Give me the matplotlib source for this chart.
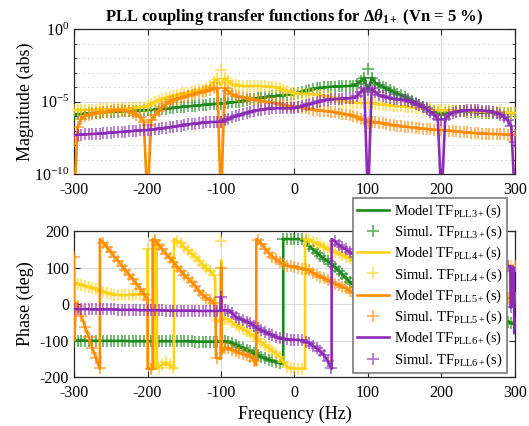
import numpy as np
import matplotlib
matplotlib.use("Agg")
import matplotlib.pyplot as plt
from matplotlib.ticker import LogFormatterSciNotation, FixedLocator, NullFormatter

plt.rcParams['font.family'] = ['Liberation Serif', 'DejaVu Serif']
plt.rcParams['mathtext.fontset'] = 'custom'
plt.rcParams['mathtext.rm'] = 'Liberation Serif'
plt.rcParams['mathtext.it'] = 'Liberation Serif:italic'
plt.rcParams['mathtext.bf'] = 'Liberation Serif:bold'
plt.rcParams['mathtext.bfit'] = 'Liberation Serif:bold:italic'
plt.rcParams['axes.unicode_minus'] = False

# frequency grid of the simulated points (Hz)
freq = np.arange(-300, 301, 5)

# magnitude, log10(abs), every 5 Hz (-12 = deep notch)
mag_pll3 = [-5.90, -5.88, -5.86, -5.84, -5.82, -5.80, -5.78, -5.76, -5.74, -5.73,
            -5.72, -5.71, -5.70, -5.68, -5.67, -5.66, -5.65, -5.63, -5.62, -5.61,
            -5.60, -5.58, -5.56, -5.54, -5.52, -5.50, -5.47, -5.44, -5.41, -5.38,
            -5.35, -5.33, -5.31, -5.29, -5.27, -5.24, -5.22, -5.20, -5.18, -5.16,
            -5.15, -5.12, -5.09, -5.06, -5.03, -5.00, -4.95, -4.90, -4.85, -4.80,
            -4.76, -4.73, -4.70, -4.67, -4.64, -4.62, -4.59, -4.56, -4.53, -4.50,
            -4.47, -4.40, -4.32, -4.25, -4.20, -4.15, -4.10, -4.06, -4.03, -4.00,
            -3.98, -3.97, -3.96, -3.95, -3.94, -3.93, -3.90, -3.80, -3.60, -3.35,
            -4.30, -3.35, -3.70, -3.85, -3.98, -4.10, -4.22, -4.33, -4.45, -4.56,
            -4.67, -4.80, -4.94, -5.08, -5.22, -5.36, -5.48, -5.58, -5.68, -5.80,
            -5.90, -5.80, -5.72, -5.67, -5.65, -5.66, -5.68, -5.70, -5.72, -5.74,
            -5.75, -5.76, -5.77, -5.78, -5.79, -5.80, -5.80, -5.80, -5.80, -5.80,
            -5.80]
mag_pll4 = [-5.59, -5.58, -5.58, -5.57, -5.57, -5.56, -5.56, -5.55, -5.55, -5.55,
            -5.54, -5.53, -5.52, -5.51, -5.50, -5.48, -5.45, -5.42, -5.39, -5.36,
            -5.32, -5.15, -5.03, -4.93, -4.84, -4.76, -4.68, -4.61, -4.55, -4.49,
            -4.44, -4.39, -4.34, -4.29, -4.24, -4.20, -4.10, -3.95, -3.65, -3.45,
            -3.90, -3.40, -3.60, -3.80, -3.88, -3.92, -3.93, -3.93, -3.93, -3.93,
            -3.93, -3.94, -3.96, -3.98, -4.00, -4.02, -4.10, -4.20, -4.30, -4.38,
            -4.43, -4.45, -4.46, -4.47, -4.48, -4.50, -4.53, -4.57, -4.62, -4.67,
            -4.72, -4.80, -4.90, -4.98, -5.03, -5.06, -5.08, -5.09, -5.10, -5.10,
            -5.10, -5.12, -5.15, -5.18, -5.21, -5.24, -5.27, -5.30, -5.32, -5.34,
            -5.36, -5.38, -5.41, -5.44, -5.47, -5.49, -5.52, -5.54, -5.56, -5.58,
            -5.59, -5.60, -5.61, -5.62, -5.63, -5.64, -5.65, -5.66, -5.67, -5.68,
            -5.69, -5.70, -5.71, -5.72, -5.73, -5.74, -5.75, -5.76, -5.77, -5.78,
            -5.80]
mag_pll5 = [-12.0, -6.74, -6.20, -6.00, -5.93, -5.86, -5.82, -5.78, -5.75, -5.70,
            -5.65, -5.60, -5.58, -5.58, -5.62, -5.68, -5.78, -5.90, -6.08, -6.40,
            -12.0, -6.30, -5.95, -5.65, -5.40, -5.20, -5.00, -4.90, -4.82, -4.75,
            -4.68, -4.60, -4.53, -4.46, -4.38, -4.32, -4.27, -4.20, -4.10, -4.05,
            -12.0, -4.05, -4.30, -4.50, -4.60, -4.67, -4.72, -4.78, -4.83, -4.87,
            -4.90, -4.95, -5.00, -5.05, -5.09, -5.13, -5.18, -5.23, -5.28, -5.32,
            -5.36, -5.40, -5.44, -5.48, -5.52, -5.56, -5.59, -5.62, -5.65, -5.68,
            -5.70, -5.75, -5.80, -5.85, -5.89, -5.93, -6.00, -6.10, -6.20, -6.30,
            -6.40, -6.40, -6.42, -6.45, -6.50, -6.55, -6.60, -6.63, -6.67, -6.70,
            -6.74, -6.76, -6.79, -6.82, -6.85, -6.87, -6.90, -6.92, -6.94, -6.96,
            -6.97, -6.99, -7.01, -7.04, -7.06, -7.09, -7.11, -7.13, -7.16, -7.18,
            -7.20, -7.21, -7.22, -7.23, -7.24, -7.25, -7.26, -7.27, -7.28, -7.29,
            -7.30]
mag_pll6 = [-7.31, -7.30, -7.28, -7.27, -7.25, -7.24, -7.22, -7.21, -7.19, -7.17,
            -7.15, -7.13, -7.11, -7.09, -7.07, -7.05, -7.03, -7.01, -6.99, -6.98,
            -6.97, -6.94, -6.91, -6.88, -6.85, -6.82, -6.78, -6.74, -6.70, -6.66,
            -6.62, -6.58, -6.55, -6.52, -6.49, -6.46, -6.44, -6.42, -6.41, -6.40,
            -6.39, -6.30, -6.20, -6.10, -6.00, -5.93, -5.85, -5.77, -5.70, -5.65,
            -5.60, -5.56, -5.52, -5.50, -5.48, -5.47, -5.47, -5.47, -5.47, -5.47,
            -5.47, -5.40, -5.32, -5.25, -5.18, -5.13, -5.05, -4.98, -4.92, -4.88,
            -4.85, -4.83, -4.81, -4.80, -4.79, -4.78, -4.75, -4.60, -4.35, -4.10,
            -12.0, -4.10, -4.35, -4.55, -4.65, -4.72, -4.78, -4.82, -4.86, -4.88,
            -4.90, -4.97, -5.05, -5.15, -5.27, -5.40, -5.55, -5.72, -5.92, -6.20,
            -12.0, -6.20, -5.92, -5.78, -5.70, -5.65, -5.62, -5.60, -5.59, -5.59,
            -5.60, -5.62, -5.64, -5.67, -5.72, -5.80, -5.90, -6.05, -6.30, -6.70,
            -12.0]

# simulated points that sit off the model curve {freq: log10 value}
mag_sim_fix = {
    'PLL3': {100: -2.75},
    'PLL4': {-100: -2.80},
    'PLL5': {-300: -7.70, -200: -6.60, -100: -6.40, 100: -6.50},
    'PLL6': {100: -4.20, 200: -6.30, 300: -7.80},
}

# phase in degrees, every 5 Hz
ph_pll3 = [-100, -100, -100, -100, -101, -101, -101, -101, -101, -101,
           -101, -101, -101, -101, -101, -102, -102, -102, -102, -102,
           -102, -102, -102, -102, -102, -102, -102, -102, -102, -102,
           -102, -102, -102, -103, -103, -103, -103, -103, -103, -103,
           -103, -102, -104, -108, -112, -117, -121, -126, -130, -135,
           -140, -145, -149, -153, -156, -159, -162, 178, 178, 178,
           178, 178, 177, 172, 160, 150, 141, 132, 124, 117,
           111, 101, 91, 81, 71, 61, 54, 47, 42, 38,
           34, 30, 27, 24, 21, 18, 15, 12, 9, 6,
           3, 0, -3, -6, -9, -12, -15, -17, -19, -21,
           -23, -25, -27, -29, -31, -33, -35, -36, -37, -38,
           -39, -40, -41, -42, -43, -44, -45, -47, -49, -52,
           -56]
ph_pll4 = [58, 55, 52, 50, 47, 44, 41, 37, 34, 31,
           28, 26, 25, 24, 24, 25, 26, 27, 26, 25,
           150, -177, 172, -174, -166, -160, -168, -176, 174, 166,
           155, 147, 137, 128, 119, 107, 98, 90, 80, -45,
           120, -40, -42, -50, -57, -63, -68, -75, -82, -89,
           -96, -105, -113, -120, -128, -136, -145, -158, -172, -176,
           -177, -177, -177, 178, 175, 170, 166, 161, 157, 152,
           148, 143, 139, 134, 130, 125, 118, 110, 104, 99,
           96, 94, 93, 92, 92, 92, 93, 93, 94, 94,
           95, 95, 96, 96, 97, 97, 98, 98, 99, 99,
           100, 100, 100, 101, 101, 101, 102, 102, 102, 103,
           103, 103, 103, 104, 104, 104, 104, 105, 105, 105,
           105]
ph_pll5 = [130, -5, -33, -62, -91, -120, -148, -176, 168, 155,
           143, 130, 118, 105, 92, 80, 68, 55, 42, 28,
           12, -178, 175, 163, 150, 138, 126, 115, 102, 91,
           80, 70, 60, 50, 35, 25, 17, 10, 2, -148,
           100, -120, -121, -125, -130, -134, -137, -140, -144, -155,
           175, 165, 152, 140, 130, 122, 116, 110, 105, 103,
           102, 100, 97, 95, 92, 86, 80, 75, 70, 65,
           61, 56, 52, 47, 43, 37, 30, 22, 18, 15,
           12, 12, 12, 13, 13, 13, 13, 13, 14, 14,
           14, 14, 14, 14, 14, 15, 15, 15, 15, 15,
           15, 15, 15, 15, 15, 15, 15, 15, 15, 15,
           15, 15, 15, 15, 16, 16, 16, 16, 16, 16,
           16]
ph_pll6 = [-14, -14, -14, -14, -14, -15, -15, -15, -15, -15,
           -15, -15, -16, -16, -16, -16, -16, -16, -17, -17,
           -17, -17, -17, -17, -17, -18, -18, -18, -18, -18,
           -18, -18, -18, -18, -19, -19, -19, -19, -19, -19,
           20, -17, -18, -25, -35, -40, -44, -48, -53, -60,
           -67, -72, -76, -81, -86, -90, -94, -96, -97, -98,
           -98, -98, -99, -103, -108, -114, -121, -130, -140, -155,
           -176, 172, 162, 155, 150, 143, 136, 128, 122, 118,
           116, 115, 114, 113, 113, 112, 112, 111, 111, 110,
           110, 110, 109, 109, 109, 108, 108, 108, 107, 107,
           107, 107, 107, 106, 106, 106, 106, 106, 105, 105,
           105, 105, 105, 105, 104, 104, 104, 104, 104, -8,
           -80]

# extra model points (freq, deg) for the vertical jumps of the wrapped phase
ph_model_extra = {
    'PLL3': [(-15.3, -165), (-15.3, 178)],
    'PLL4': [(-200.3, 24), (-199.5, -176), (-191, -178), (-190.5, 172),
             (-187.5, 168), (-187, -176), (-164, -178), (-164, 178),
             (-108, 72), (-107.5, -50), (-100.5, -48), (-99.5, 115),
             (-98.5, -45), (14.3, -177), (14.3, 179)],
    'PLL5': [(-299.5, -100), (-297.5, 3), (-264.8, -178), (-264.8, 178),
             (-199.6, -178), (-193, -178), (-193, 178), (-107.5, -5),
             (-106.8, -148), (-100.6, -150), (-99.4, 95), (-98.8, -135),
             (-52, -168), (-52, 178)],
    'PLL6': [(-100.8, -19), (-99.2, -17), (50.5, -178), (50.5, 178),
             (293.5, 104), (294, -10), (296, -5), (296.5, 100),
             (298.5, 100), (299, -80)],
}
ph_sim_fix = {
    'PLL3': {},
    'PLL4': {-100: 172},
    'PLL5': {},
    'PLL6': {300: 5},
}

names = ['PLL3', 'PLL4', 'PLL5', 'PLL6']
colors = ['#1b8a1b', '#ffd21a', '#ff8c00', '#8e2bb5']
mags = [mag_pll3, mag_pll4, mag_pll5, mag_pll6]
phases = [ph_pll3, ph_pll4, ph_pll5, ph_pll6]


def with_fix(values, fix):
    v = np.array(values, dtype=float)
    for f, val in fix.items():
        v[np.where(freq == f)[0][0]] = val
    return v


def with_extra(values, extra):
    f_all = np.concatenate([freq, [e[0] for e in extra]])
    v_all = np.concatenate([np.array(values, dtype=float), [e[1] for e in extra]])
    order = np.argsort(f_all, kind='stable')
    return f_all[order], v_all[order]


fig = plt.figure(figsize=(5.29, 4.26), dpi=100)
ax1 = fig.add_axes([0.1399, 0.5915, 0.8336, 0.3404])
ax2 = fig.add_axes([0.1399, 0.1150, 0.8336, 0.3427])

lw = 1.9
ms = 8
for name, c, m, p in zip(names, colors, mags, phases):
    # magnitude
    ax1.plot(freq, 10.0 ** np.array(m), color=c, lw=lw, zorder=3)
    ax1.plot(freq, 10.0 ** with_fix(m, mag_sim_fix[name]), ls='none', marker='+',
             ms=ms, mew=1.3, color=c, alpha=0.65, zorder=3)
    # phase
    fx, px = with_extra(p, ph_model_extra[name])
    ax2.plot(fx, px, color=c, lw=lw, zorder=3,
             label=r'Model TF$_{\mathrm{' + name + r'+}}$(s)')
    ax2.plot(freq, with_fix(p, ph_sim_fix[name]), ls='none', marker='+',
             ms=ms, mew=1.3, color=c, alpha=0.65, zorder=3,
             label=r'Simul. TF$_{\mathrm{' + name + r'+}}$(s)')

for ax in (ax1, ax2):
    ax.set_xlim(-300, 300)
    ax.set_xticks(np.arange(-300, 301, 100))
    ax.tick_params(direction='in', which='both', top=True, right=True,
                   labelsize=11.5, length=4, color='#262626')
    ax.tick_params(axis='x', pad=6)
    ax.tick_params(which='minor', length=2)
    for s in ax.spines.values():
        s.set_color('#262626')
        s.set_linewidth(0.9)
    ax.grid(True, which='major', color='#dcdcdc', lw=0.8, zorder=0)
    ax.set_axisbelow(True)

ax1.set_yscale('log')
ax1.set_ylim(1e-10, 1)
ax1.yaxis.set_major_locator(FixedLocator([1e-10, 1e-5, 1]))
ax1.yaxis.set_major_formatter(LogFormatterSciNotation())
ax1.yaxis.set_minor_locator(FixedLocator([10.0 ** k for k in range(-9, 0) if k != -5]))
ax1.yaxis.set_minor_formatter(NullFormatter())
ax1.grid(True, which='minor', axis='y', color='#c8c8c8', lw=0.8, ls=(0, (1, 3)))
ax1.set_ylabel('Magnitude (abs)', fontsize=13)
ax1.yaxis.set_label_coords(-0.09, 0.5)
ax1.set_title(r'PLL coupling transfer functions for $\mathbf{\Delta}\boldsymbol{\theta}_{\mathbf{1+}}$ (Vn = 5 %)',
              fontsize=12, fontweight='bold', pad=6)

ax2.set_ylim(-200, 200)
ax2.set_yticks([-200, -100, 0, 100, 200])
ax2.set_ylabel('Phase (deg)', fontsize=13)
ax2.yaxis.set_label_coords(-0.09, 0.5)
ax2.set_xlabel('Frequency (Hz)', fontsize=13, labelpad=3)

leg = fig.legend(*ax2.get_legend_handles_labels(), loc='upper right',
                 bbox_to_anchor=(0.958, 0.535), bbox_transform=fig.transFigure,
                 fontsize=10.5, frameon=True, fancybox=False, framealpha=1,
                 edgecolor='#7a7a7a', handlelength=2.2, labelspacing=0.27,
                 borderpad=0.3, handletextpad=0.3, borderaxespad=0)
leg.get_frame().set_linewidth(1.2)
leg.set_zorder(10)

fig.savefig('out.png', dpi=100)
